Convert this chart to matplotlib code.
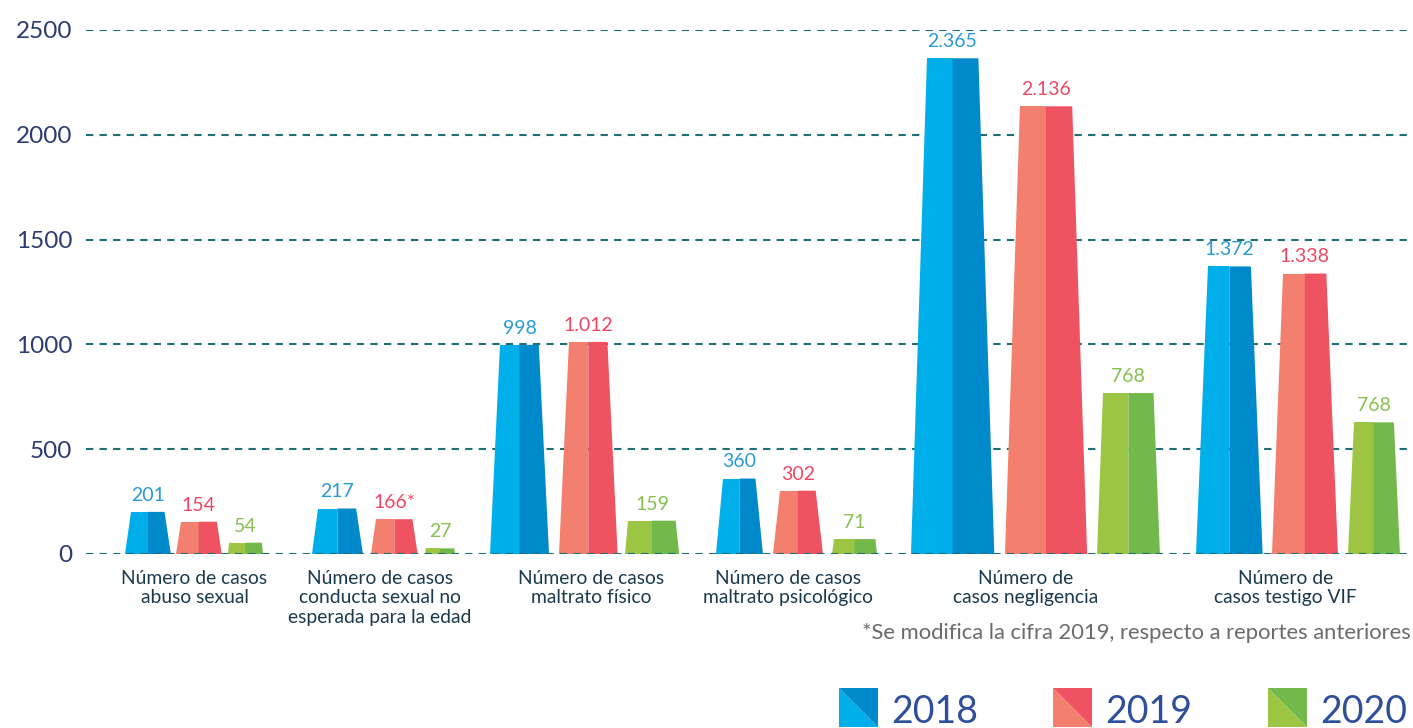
import numpy as np
import matplotlib
matplotlib.use("Agg")
import matplotlib.pyplot as plt
from matplotlib.patches import Polygon

plt.rcParams["font.family"] = ["Lato", "DejaVu Sans"]

# ---- data ----
CATEGORIES = [
    "Número de casos\nabuso sexual",
    "Número de casos\nconducta sexual no\nesperada para la edad",
    "Número de casos\nmaltrato físico",
    "Número de casos\nmaltrato psicológico",
    "Número de\ncasos negligencia",
    "Número de\ncasos testigo VIF",
]
YEARS = ["2018", "2019", "2020"]
CASES_2018 = [201, 217, 998, 360, 2365, 1372]
CASES_2019 = [154, 166, 1012, 302, 2136, 1338]
CASES_2020 = [54, 27, 159, 71, 768, 628]
LABELS_2018 = ["201", "217", "998", "360", "2.365", "1.372"]
LABELS_2019 = ["154", "166*", "1.012", "302", "2.136", "1.338"]
LABELS_2020 = ["54", "27", "159", "71", "768", "768"]
Y_TICKS = [0, 500, 1000, 1500, 2000, 2500]
NOTE = "*Se modifica la cifra 2019, respecto a reportes anteriores"

# ---- layout (pixel-like x units) ----
W, H = 1413, 728
X_2018 = [148, 337.3, 519.5, 739.3, 952.5, 1229.3]
X_2019 = [198.7, 394.3, 588.3, 797.8, 1046, 1304.8]
X_2020 = [245.5, 440, 652, 854.5, 1128.3, 1373.8]
W_2018 = [45.7, 51.3, 59, 47.3, 83.6, 66.7]
W_2019 = [46, 46.7, 58.7, 50.3, 82.3, 66.3]
W_2020 = [35, 30, 54.3, 45, 63.3, 52.3]
TAPER = [1.0, 1.0, 0.7]
LABEL_X = [194.5, 380, 591, 788, 1026, 1285.5]
LEGEND_X = [839, 1053, 1268]

LIGHT = ["#00AEEA", "#F37F6F", "#9DC544"]
DARK = ["#0089CB", "#EF5261", "#72B84B"]
VALUE_COLORS = ["#2A9AD6", "#EE4663", "#86C150"]
GRID_COLOR = "#1F6F73"
PX_PER_UNIT = 524 / 2500


def draw_bar(ax, xc, w, h, taper, light, dark):
    hpx = h * PX_PER_UNIT
    inset = taper * min(0.15 * hpx, 6 + 0.02 * hpx)
    half_top = w / 2 - inset
    ax.add_patch(Polygon([(xc - w / 2, 0), (xc, 0), (xc, h), (xc - half_top, h)],
                         closed=True, fc=light, ec="none", zorder=3))
    ax.add_patch(Polygon([(xc, 0), (xc + w / 2, 0), (xc + half_top, h), (xc, h)],
                         closed=True, fc=dark, ec="none", zorder=3))


fig = plt.figure(figsize=(W / 100, H / 100), dpi=100)
ax = fig.add_axes([86 / W, 174 / H, 1 - 86 / W, 524 / H])
ax.set_xlim(86, W)
ax.set_ylim(0, 2500)
for s in ax.spines.values():
    s.set_visible(False)
ax.set_xticks([])
ax.set_yticks(Y_TICKS)
ax.set_yticklabels([str(t) for t in Y_TICKS])
ax.tick_params(axis="y", length=0, pad=10, labelsize=17.5, labelcolor="#2C3B73")
dash = (0, (3.5, 3))
for t in Y_TICKS:
    ax.axhline(t, color=GRID_COLOR, lw=1.5, ls=dash, zorder=1 if t else 5)

series = [CASES_2018, CASES_2019, CASES_2020]
labels = [LABELS_2018, LABELS_2019, LABELS_2020]
xs = [X_2018, X_2019, X_2020]
ws = [W_2018, W_2019, W_2020]
for k in range(3):
    for i, v in enumerate(series[k]):
        draw_bar(ax, xs[k][i], ws[k][i], v, TAPER[k], LIGHT[k], DARK[k])
        ax.annotate(labels[k][i], (xs[k][i], v), xytext=(0, 8),
                    textcoords="offset points", ha="center", va="baseline",
                    fontsize=14, color=VALUE_COLORS[k], annotation_clip=False)

# overlay in pixel coordinates for category labels, note and legend
ov = fig.add_axes([0, 0, 1, 1])
ov.set_xlim(0, W)
ov.set_ylim(H, 0)
ov.axis("off")
ov.patch.set_alpha(0)

for x, lab in zip(LABEL_X, CATEGORIES):
    ov.text(x, 570, lab, ha="center", va="top", fontsize=13.9,
            color="#1B3A4E", linespacing=1.17)

ov.text(1411, 639, NOTE, ha="right", va="baseline", fontsize=15.8, color="#6B6B6B")

size = 39
for k, x0 in enumerate(LEGEND_X):
    y0 = 688
    ov.add_patch(Polygon([(x0, y0), (x0, y0 + size), (x0 + size, y0 + size)],
                         closed=True, fc=LIGHT[k], ec="none"))
    ov.add_patch(Polygon([(x0, y0), (x0 + size, y0), (x0 + size, y0 + size)],
                         closed=True, fc=DARK[k], ec="none"))
    ov.text(x0 + 52, 723, YEARS[k], ha="left", va="baseline", fontsize=27,
            color="#2F4E9C")

fig.savefig("out.png", dpi=100)
